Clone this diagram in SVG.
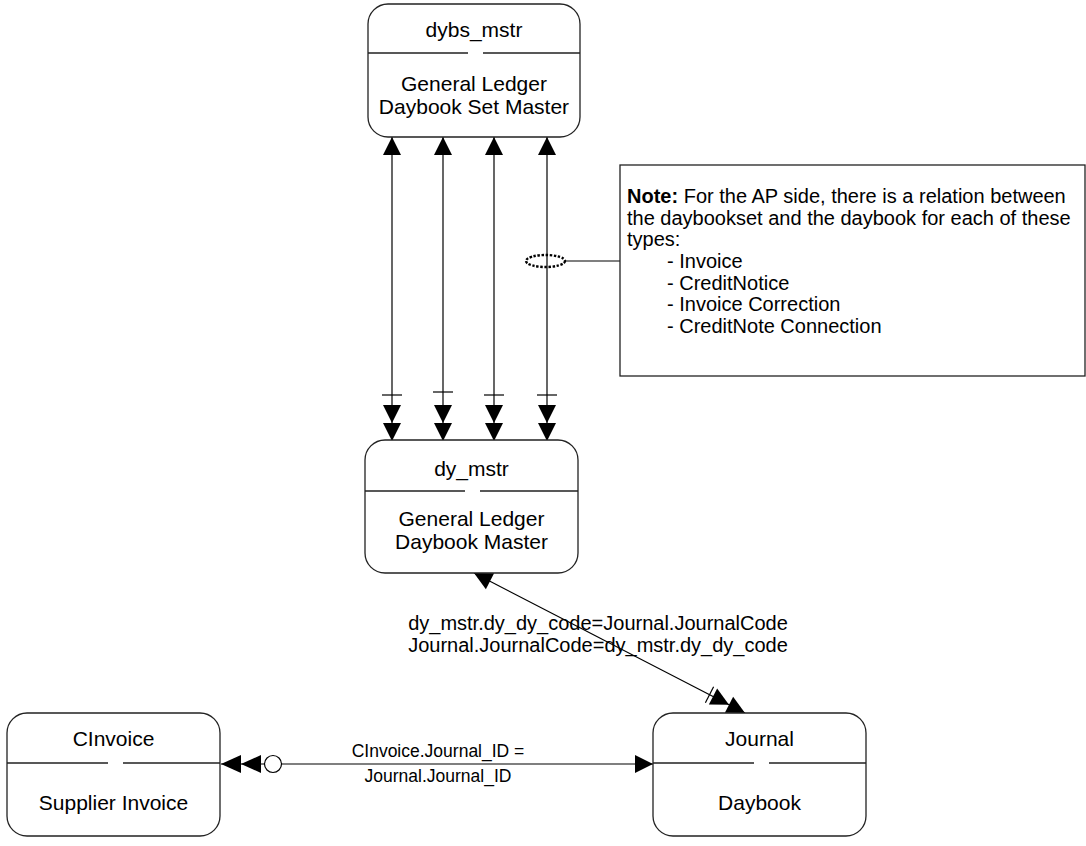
<svg xmlns="http://www.w3.org/2000/svg" xmlns:xlink="http://www.w3.org/1999/xlink" width="1086" height="846" viewBox="0 0 1086 846">
<style>
text{font-family:"Liberation Sans",Arial,sans-serif;fill:#000}
.nt{font-size:21px;text-anchor:middle}
.lb{font-size:20px;text-anchor:middle}
.lbs{font-size:17.5px;text-anchor:middle}
.note{font-size:20px}
.box{fill:#fff;stroke:#222;stroke-width:1.3}
.div{stroke:#222;stroke-width:1.3;fill:none}
.ln{stroke:#000;stroke-width:1.2;fill:none}
.ah{fill:#000;stroke:none}
</style>
<defs>
<path id="ah" class="ah" d="M0,0 L-18,-9 L-18,9 Z"/>
<path id="ah20" class="ah" d="M0,0 L-20,-9 L-20,9 Z"/>
</defs>
<g id="connectors">
<line class="ln" x1="392" y1="137" x2="392" y2="441"/>
<line class="ln" x1="443" y1="137" x2="443" y2="441"/>
<line class="ln" x1="494" y1="137" x2="494" y2="441"/>
<line class="ln" x1="547" y1="137" x2="547" y2="441"/>
<use xlink:href="#ah" transform="translate(392,137) rotate(-90)"/>
<use xlink:href="#ah" transform="translate(443,137) rotate(-90)"/>
<use xlink:href="#ah" transform="translate(494,137) rotate(-90)"/>
<use xlink:href="#ah" transform="translate(547,137) rotate(-90)"/>
<use xlink:href="#ah" transform="translate(392,423) rotate(90)"/>
<use xlink:href="#ah" transform="translate(392,441) rotate(90)"/>
<use xlink:href="#ah" transform="translate(443,423) rotate(90)"/>
<use xlink:href="#ah" transform="translate(443,441) rotate(90)"/>
<use xlink:href="#ah" transform="translate(494,423) rotate(90)"/>
<use xlink:href="#ah" transform="translate(494,441) rotate(90)"/>
<use xlink:href="#ah" transform="translate(547,423) rotate(90)"/>
<use xlink:href="#ah" transform="translate(547,441) rotate(90)"/>
<line class="ln" x1="382" y1="395" x2="402" y2="395"/>
<line class="ln" x1="433" y1="392" x2="453" y2="392"/>
<line class="ln" x1="484" y1="395" x2="504" y2="395"/>
<line class="ln" x1="537" y1="395" x2="557" y2="395"/>
<ellipse cx="545.5" cy="261" rx="19.5" ry="6" fill="none" stroke="#000" stroke-width="2.4" stroke-dasharray="2.4,1.6"/>
<line class="ln" x1="565" y1="261" x2="620" y2="261"/>
<line class="ln" x1="474" y1="573" x2="745" y2="713"/>
<use xlink:href="#ah" transform="translate(474,573) rotate(207.3)"/>
<use xlink:href="#ah" transform="translate(729,704.7) rotate(27.3)"/>
<use xlink:href="#ah" transform="translate(745,713) rotate(27.3)"/>
<line class="ln" x1="705.4" y1="702.7" x2="713.6" y2="686.7"/>
<text class="lb" x="598" y="630">dy_mstr.dy_dy_code=Journal.JournalCode</text>
<text class="lb" x="598" y="652">Journal.JournalCode=dy_mstr.dy_dy_code</text>
<line class="ln" x1="221" y1="764" x2="653" y2="764"/>
<use xlink:href="#ah20" transform="translate(221,764) rotate(180)"/>
<use xlink:href="#ah20" transform="translate(241,764) rotate(180)"/>
<circle cx="273" cy="764" r="8.5" fill="#fff" stroke="#000" stroke-width="1.2"/>
<use xlink:href="#ah" transform="translate(653,764)"/>
<text class="lbs" x="438" y="757">CInvoice.Journal_ID =</text>
<text class="lbs" x="438" y="782">Journal.Journal_ID</text>
</g>
<g id="dybs_mstr">
<rect class="box" x="368" y="4" width="212" height="133" rx="20"/>
<path class="div" d="M368,53 H468 M483,53 H580"/>
<text class="nt" x="474" y="37">dybs_mstr</text>
<text class="nt" x="474" y="91">General Ledger</text>
<text class="nt" x="474" y="114">Daybook Set Master</text>
</g>
<g id="dy_mstr">
<rect class="box" x="365" y="440" width="213" height="133" rx="20"/>
<path class="div" d="M365,491 H465 M480,491 H578"/>
<text class="nt" x="471.5" y="476">dy_mstr</text>
<text class="nt" x="471.5" y="526">General Ledger</text>
<text class="nt" x="471.5" y="549">Daybook Master</text>
</g>
<g id="CInvoice">
<rect class="box" x="7" y="713" width="213" height="123" rx="20"/>
<path class="div" d="M7,763 H108 M123,763 H220"/>
<text class="nt" x="113.5" y="746">CInvoice</text>
<text class="nt" x="113.5" y="810">Supplier Invoice</text>
</g>
<g id="Journal">
<rect class="box" x="653" y="713" width="213" height="123" rx="20"/>
<path class="div" d="M653,763 H754 M769,763 H866"/>
<text class="nt" x="759.5" y="746">Journal</text>
<text class="nt" x="759.5" y="810">Daybook</text>
</g>
<g id="note">
<rect x="620" y="165" width="465" height="211" fill="#fff" stroke="#222" stroke-width="1.3"/>
<text class="note" x="627" y="203"><tspan font-weight="bold">Note:</tspan> For the AP side, there is a relation between</text>
<text class="note" x="627" y="225">the daybookset and the daybook for each of these</text>
<text class="note" x="627" y="246">types:</text>
<text class="note" x="667" y="268">- Invoice</text>
<text class="note" x="667" y="290">- CreditNotice</text>
<text class="note" x="667" y="311">- Invoice Correction</text>
<text class="note" x="667" y="333">- CreditNote Connection</text>
</g>
</svg>
